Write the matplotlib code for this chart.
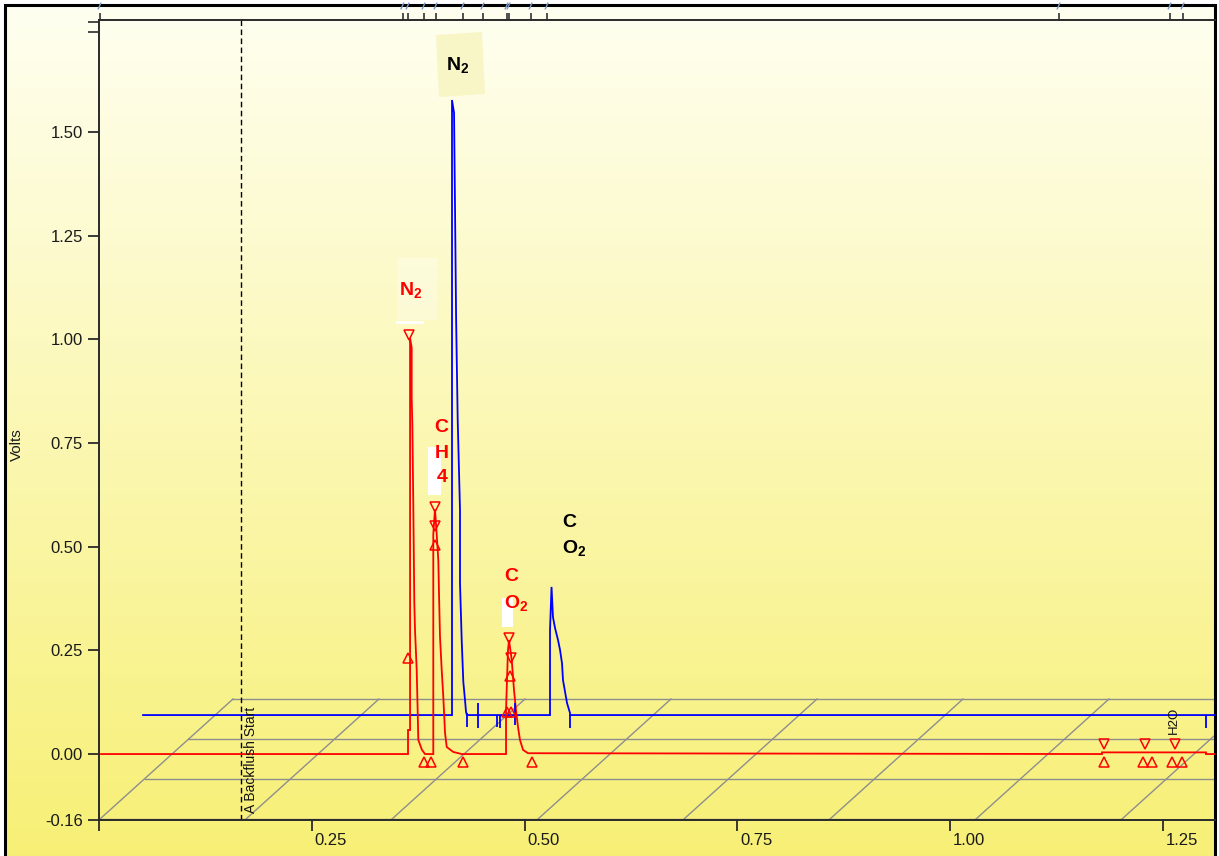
import numpy as np
import matplotlib
matplotlib.use('Agg')
import matplotlib.pyplot as plt
from matplotlib.patches import Polygon
from matplotlib.transforms import ScaledTranslation, blended_transform_factory

plt.rcParams['font.family'] = ['Liberation Sans', 'DejaVu Sans']
plt.rcParams['mathtext.fontset'] = 'custom'
plt.rcParams['mathtext.rm'] = 'Liberation Sans'
plt.rcParams['mathtext.bf'] = 'Liberation Sans:bold'
plt.rcParams['mathtext.it'] = 'Liberation Sans:italic'

# ---------------- data (time in minutes, signal in volts) ----------------
blue_t = [0.0514, 0.4146, 0.4146, 0.4170, 0.4182, 0.4194, 0.4213, 0.4240, 0.4240, 0.4260,
          0.4279, 0.4299, 0.4311, 0.4322,
          0.5298, 0.5298, 0.5316, 0.5333, 0.5357, 0.5392, 0.5416, 0.5439, 0.5451, 0.5498,
          0.5533, 0.5533, 1.3115]
blue_v = [0.094, 0.094, 1.577, 1.546, 1.305, 1.054, 0.805, 0.588, 0.412, 0.275,
          0.174, 0.130, 0.101, 0.094,
          0.094, 0.299, 0.403, 0.330, 0.304, 0.275, 0.251, 0.219, 0.178, 0.123,
          0.099, 0.094, 0.094]

red_t = [0.0020, 0.3629, 0.3629, 0.3653, 0.3653, 0.3672, 0.3672, 0.3680, 0.3691, 0.3703,
         0.3711, 0.3731, 0.3743, 0.3750, 0.3793, 0.3829,
         0.3926, 0.3926, 0.3946, 0.3966, 0.3985, 0.3995, 0.4005, 0.4025, 0.4044, 0.4064,
         0.4084, 0.4161, 0.4260,
         0.4781, 0.4781, 0.4804, 0.4816, 0.4848, 0.4875, 0.4898, 0.4922, 0.4945, 0.4981, 0.5040,
         1.1786, 1.1786, 1.3009, 1.3009, 1.3115]
red_v = [0.0, 0.0, 0.058, 0.058, 1.003, 0.980, 0.860, 0.793, 0.600, 0.364,
         0.300, 0.203, 0.099, 0.034, 0.010, 0.0,
         0.0, 0.530, 0.590, 0.530, 0.468, 0.371, 0.282, 0.203, 0.137, 0.051,
         0.017, 0.005, 0.0,
         0.0, 0.106, 0.250, 0.275, 0.227, 0.154, 0.106, 0.065, 0.034, 0.010, 0.002,
         0.0, 0.004, 0.004, 0.0, 0.0]

# peak start/end markers on the red channel
red_down_t = [0.3641, 0.3946, 0.3946, 0.4816, 0.4840, 1.1810, 1.2292, 1.2645]
red_down_v = [1.011, 0.596, 0.550, 0.280, 0.231, 0.024, 0.024, 0.024]
red_up_t = [0.3629, 0.3946, 0.4828, 0.4789, 0.4840, 0.3817, 0.3899, 0.4275, 0.5087,
            1.1810, 1.2268, 1.2374, 1.2610, 1.2727]
red_up_v = [0.231, 0.504, 0.188, 0.101, 0.101, -0.019, -0.019, -0.019, -0.019,
            -0.019, -0.019, -0.019, -0.019, -0.019]

# integration ticks on the blue channel
blue_tick_t = [0.4322, 0.4452, 0.4675, 0.4710, 0.4886, 0.5533, 1.3009]
blue_tick_lo = [0.065, 0.063, 0.065, 0.063, 0.070, 0.063, 0.063]
blue_tick_hi = [0.099, 0.123, 0.094, 0.094, 0.123, 0.094, 0.094]

# event ticks on the top strip
event_t = [0.0008, 0.3567, 0.3629, 0.3817, 0.3958, 0.4275, 0.4510, 0.4792, 0.4816,
           0.5075, 0.5263, 1.1281, 1.2586, 1.2739]

backflush_t = 0.166

x_ticks = [0.0, 0.25, 0.50, 0.75, 1.00, 1.25]
x_ticklabels = ['', '0.25', '0.50', '0.75', '1.00', '1.25']
y_ticks = [-0.16, 0.00, 0.25, 0.50, 0.75, 1.00, 1.25, 1.50]
y_ticklabels = ['-0.16', '0.00', '0.25', '0.50', '0.75', '1.00', '1.25', '1.50']

RED = '#ff0000'
BLUE = '#0000ff'

# ---------------- figure ----------------
W, H = 1219, 856
fig = plt.figure(figsize=(W / 100, H / 100), dpi=100)
fig.patch.set_facecolor('white')

bg = fig.add_axes([0, 0, 1, 1], zorder=-10)
bg.set_xlim(0, W)
bg.set_ylim(H, 0)
bg.axis('off')
g = np.linspace(0, 1, 256)[:, None, None]
c_top = np.array([1.0, 1.0, 0.945])
c_bot = np.array([0.97, 0.94, 0.46])
img = c_top + (c_bot - c_top) * g
bg.imshow(img, extent=(5, 1215, 856, 5), aspect='auto', interpolation='bilinear')
bg.plot([5, 5, 1215, 1215], [860, 5, 5, 860], color='black', lw=2.2, solid_joinstyle='miter')

ax = fig.add_axes([99.3 / W, (H - 820.4) / H, (1215 - 99.3) / W, 800.4 / H])
ax.set_facecolor('none')
ax.set_xlim(0, 1.3115)
ax.set_ylim(-0.16, 1.77)


def px(x, y):
    return ax.transData.inverted().transform((x, H - y))


# perspective floor grid
FLOOR = '#8e8e8e'
floor_rows = [(232, 699, 1215), (188, 739, 1215), (145, 779, 1215), (100, 819, 1122)]
for x0, yy, x1 in floor_rows:
    a = px(x0, yy)
    b = px(x1, yy)
    ax.plot([a[0], b[0]], [a[1], b[1]], color=FLOOR, lw=1, zorder=1)
for k in range(8):
    a = px(100 + 146 * k, 819)
    b = px(233 + 146 * k, 699)
    ax.plot([a[0], b[0]], [a[1], b[1]], color=FLOOR, lw=1, zorder=1)

# backflush marker
ax.axvline(backflush_t, color='black', lw=1, dashes=(4, 2.5), zorder=2)
ax.text(backflush_t + 0.0128, -0.143, 'A Backflush Start', rotation=90,
        ha='center', va='bottom', fontsize=10, color='#111111', zorder=5)

# traces
ax.plot(blue_t, blue_v, color=BLUE, lw=1.3, zorder=3, solid_joinstyle='miter')
ax.plot(red_t, red_v, color=RED, lw=1.3, zorder=3, solid_joinstyle='miter')
ax.vlines(blue_tick_t, blue_tick_lo, blue_tick_hi, color=BLUE, lw=1.3, zorder=3)

ax.plot(red_down_t, red_down_v, 'v', ms=7, mfc='none', mec=RED, mew=1.1, zorder=4)
ax.plot(red_up_t, red_up_v, '^', ms=7, mfc='none', mec=RED, mew=1.1, zorder=4)

# label backgrounds
ax.add_patch(Polygon([px(436, 35), px(482, 32), px(485, 94), px(439, 97)],
                     closed=True, facecolor='#f8f5c6', edgecolor='none', zorder=2))
ax.add_patch(Polygon([px(397, 258), px(437, 258), px(437, 320), px(397, 320)],
                     closed=True, facecolor='white', alpha=0.3, edgecolor='none', zorder=2))
wl = [px(397, 322), px(422, 322)]
ax.plot([wl[0][0], wl[1][0]], [wl[0][1], wl[1][1]], color='white', lw=2, zorder=2)
ax.add_patch(Polygon([px(428, 447), px(441, 447), px(441, 495), px(428, 495)],
                     closed=True, facecolor='white', edgecolor='none', zorder=2))
ax.add_patch(Polygon([px(502, 598), px(513, 598), px(513, 627), px(502, 627)],
                     closed=True, facecolor='white', edgecolor='none', zorder=2))

# peak labels
lab = dict(ha='center', va='center', fontsize=14, fontweight='bold', zorder=6)
ax.text(0.4217, 1.661, r'$\mathbf{N_2}$', color='black', **lab)
ax.text(0.3664, 1.119, r'$\mathbf{N_2}$', color=RED, **lab)
ax.text(0.4025, 0.787, 'C', color=RED, **lab)
ax.text(0.4025, 0.725, 'H', color=RED, **lab)
ax.text(0.4025, 0.668, '4', color=RED, **lab)
ax.text(0.4845, 0.427, 'C', color=RED, **lab)
ax.text(0.4904, 0.364, r'$\mathbf{O_2}$', color=RED, **lab)
ax.text(0.5527, 0.558, 'C', color='black', **lab)
ax.text(0.5580, 0.497, r'$\mathbf{O_2}$', color='black', **lab)
ax.text(1.2633, 0.082, 'H2O', rotation=90, ha='center', va='center', fontsize=9.5,
        color='#111111', zorder=6)

# top event strip ticks
tb = blended_transform_factory(ax.transData, ax.transAxes)
strip = 7 / 800.4
ax.vlines(event_t, 1.0, 1.0 + strip, transform=tb, color='#333333', lw=1.2, clip_on=False)
for t in event_t:
    ax.plot([t - 0.002, t + 0.001], [1.0 + 1.6 * strip, 1.0 + 2.4 * strip], transform=tb,
            color='#7a9cc8', lw=1, clip_on=False)

# axes styling
for side in ['left', 'bottom', 'top', 'right']:
    ax.spines[side].set_color('#2a2a2a')
    ax.spines[side].set_linewidth(1.4)
ax.spines['right'].set_color('black')

ax.set_xticks(x_ticks)
ax.set_xticklabels(x_ticklabels)
ax.set_yticks(y_ticks)
ax.set_yticklabels(y_ticklabels)
ax.set_yticks([1.742, 1.765], minor=True)
ax.tick_params(axis='both', which='major', direction='out', length=8, width=1.3,
               color='#2a2a2a', labelsize=12, labelcolor='#1a1a1a')
ax.tick_params(axis='x', pad=1)
ax.tick_params(axis='y', pad=4)
ax.tick_params(axis='y', which='minor', direction='out', length=8, width=1.2, color='#2a2a2a')
for lbl in ax.get_xticklabels():
    lbl.set_horizontalalignment('left')
    lbl.set_transform(lbl.get_transform() + ScaledTranslation(2 / 72, 0, fig.dpi_scale_trans))

fig.text(17 / W, 1 - 445 / H, 'Volts', rotation=90, ha='center', va='center',
         fontsize=11, color='#1a1a1a')

fig.savefig('out.png', dpi=100)
